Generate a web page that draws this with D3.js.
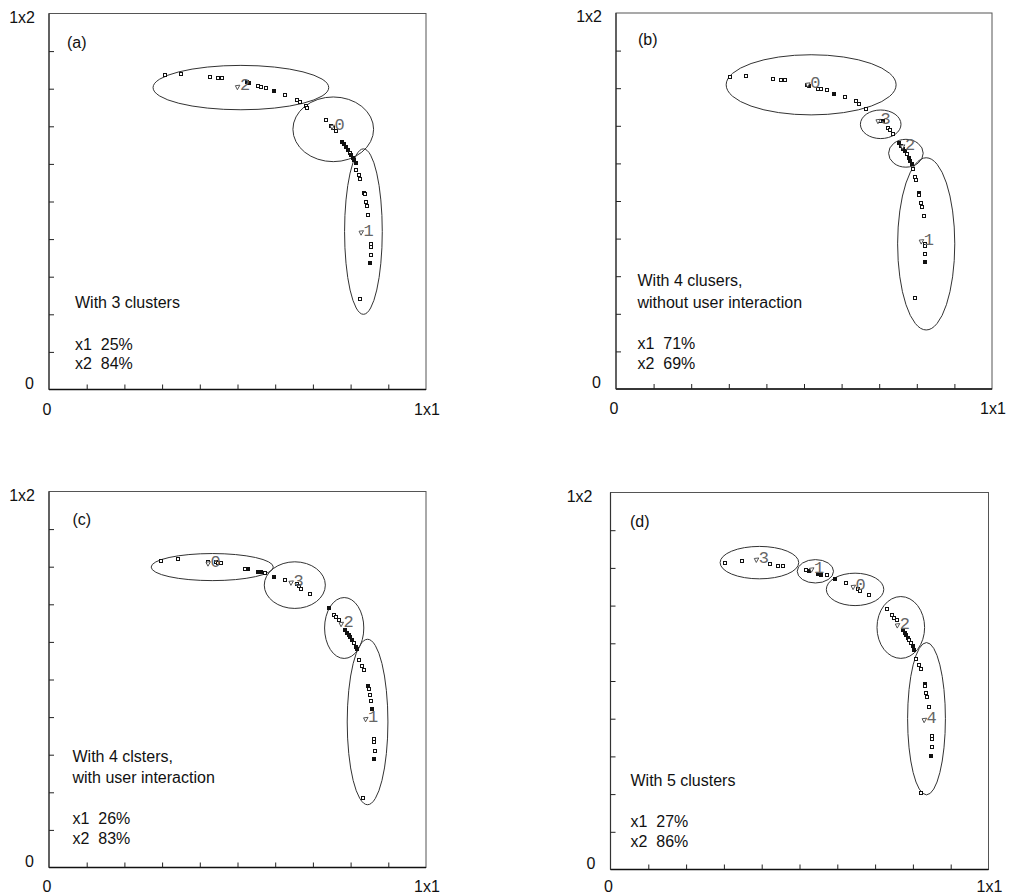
<!DOCTYPE html>
<html>
<head>
<meta charset="utf-8">
<script src="https://cdn.jsdelivr.net/npm/d3@7"></script>
<style>
    body { margin: 0; background: #fff; }
    svg { display: block; }
</style>
</head>
<body>
<div id="chart"></div>
<script>

// points: [x1, x2, filled]
const pointsA = [
    [0.307,0.836,0],[0.349,0.840,0],[0.426,0.831,0],[0.448,0.828,0],[0.459,0.828,0],
    [0.524,0.818,1],[0.531,0.815,1],[0.554,0.806,0],[0.562,0.805,0],[0.575,0.802,0],
    [0.597,0.794,1],[0.625,0.784,0],[0.658,0.771,0],[0.665,0.765,0],[0.683,0.753,0],[0.685,0.749,0],
    [0.736,0.718,0],[0.749,0.700,0],[0.753,0.696,0],[0.760,0.687,0],
    [0.778,0.658,1],[0.783,0.652,1],[0.787,0.645,1],[0.793,0.638,1],[0.798,0.629,0],[0.802,0.623,1],
    [0.806,0.616,1],[0.809,0.610,1],[0.813,0.603,1],
    [0.815,0.585,0],[0.821,0.570,0],[0.826,0.560,0],[0.835,0.523,1],[0.837,0.519,0],[0.842,0.499,0],
    [0.844,0.488,0],[0.847,0.463,0],[0.853,0.386,0],[0.853,0.380,0],[0.853,0.357,0],[0.851,0.336,1],
    [0.824,0.241,0]
];
const pointsB = [
    [0.303,0.829,0],[0.346,0.832,0],[0.418,0.825,0],[0.440,0.822,0],[0.449,0.822,0],
    [0.507,0.809,1],[0.514,0.805,1],[0.537,0.798,0],[0.546,0.797,0],[0.560,0.794,0],[0.580,0.785,1],
    [0.608,0.776,0],[0.639,0.765,0],[0.646,0.759,0],[0.666,0.744,0],
    [0.701,0.712,0],[0.710,0.714,1],[0.723,0.694,0],[0.729,0.688,0],[0.736,0.679,0],
    [0.752,0.654,1],[0.759,0.645,1],[0.763,0.639,1],[0.769,0.633,1],[0.775,0.624,0],[0.779,0.615,1],
    [0.783,0.606,1],[0.787,0.599,1],
    [0.789,0.584,0],[0.794,0.564,0],[0.798,0.557,0],[0.805,0.520,1],[0.807,0.515,0],[0.812,0.495,0],
    [0.814,0.484,0],[0.818,0.460,0],[0.823,0.385,0],[0.823,0.379,0],[0.823,0.358,0],[0.821,0.337,1],
    [0.796,0.241,0]
];
const pointsC = [
    [0.297,0.815,0],[0.343,0.820,0],[0.421,0.813,0],[0.444,0.813,0],[0.448,0.810,0],[0.457,0.810,0],
    [0.521,0.795,0],[0.529,0.793,1],[0.554,0.785,1],[0.563,0.785,1],[0.574,0.784,0],[0.596,0.773,1],
    [0.627,0.764,0],[0.658,0.755,0],[0.662,0.748,0],[0.668,0.742,0],[0.691,0.727,0],
    [0.742,0.689,1],[0.755,0.671,0],[0.761,0.665,0],[0.768,0.658,0],[0.786,0.631,1],[0.791,0.624,1],
    [0.795,0.618,1],[0.799,0.612,1],[0.804,0.605,1],[0.808,0.596,0],[0.813,0.587,1],[0.817,0.580,1],
    [0.822,0.553,0],[0.829,0.536,0],[0.835,0.525,0],[0.845,0.483,1],[0.848,0.476,0],[0.851,0.459,0],
    [0.854,0.444,0],[0.857,0.421,1],[0.863,0.341,0],[0.863,0.333,0],[0.864,0.311,0],[0.861,0.288,1],
    [0.833,0.184,0]
];
const pointsD = [
    [0.303,0.813,0],[0.347,0.817,0],[0.422,0.811,0],[0.444,0.806,0],[0.456,0.806,0],
    [0.517,0.795,0],[0.524,0.791,1],[0.549,0.784,1],[0.557,0.781,1],[0.572,0.781,0],
    [0.593,0.771,1],[0.623,0.760,0],[0.655,0.744,0],[0.659,0.740,0],[0.683,0.727,0],
    [0.731,0.690,0],[0.744,0.674,0],[0.751,0.668,0],[0.758,0.661,0],[0.774,0.634,1],[0.778,0.627,1],
    [0.782,0.621,1],[0.787,0.615,1],[0.791,0.608,0],[0.796,0.600,0],[0.800,0.592,1],[0.804,0.583,1],
    [0.809,0.559,0],[0.815,0.542,0],[0.821,0.533,0],[0.831,0.491,1],[0.833,0.486,0],[0.835,0.469,0],
    [0.837,0.458,0],[0.843,0.431,0],[0.850,0.354,0],[0.850,0.347,0],[0.850,0.324,0],[0.848,0.301,1],
    [0.821,0.204,0]
];

// cluster centres: [label, x1, x2]
const centresA = [['2',0.501,0.804],['0',0.752,0.698],['1',0.829,0.417]];
const centresB = [['0',0.511,0.809],['3',0.698,0.712],['2',0.763,0.644],['1',0.813,0.392]];
const centresC = [['0',0.423,0.808],['3',0.643,0.757],['2',0.776,0.647],['1',0.841,0.394]];
const centresD = [['3',0.387,0.821],['1',0.533,0.795],['0',0.643,0.749],['2',0.760,0.647],['4',0.831,0.396]];

// cluster ellipses: [cx, cy, rx, ry] in data units
const ellipsesA = [[0.509,0.803,0.233,0.059],[0.754,0.692,0.107,0.086],[0.834,0.420,0.050,0.220]];
const ellipsesB = [[0.519,0.809,0.226,0.080],[0.704,0.704,0.054,0.038],[0.771,0.627,0.046,0.037],[0.825,0.386,0.076,0.229]];
const ellipsesC = [[0.433,0.799,0.162,0.036],[0.652,0.751,0.081,0.062],[0.783,0.637,0.052,0.081],[0.845,0.387,0.054,0.220]];
const ellipsesD = [[0.394,0.814,0.104,0.043],[0.542,0.791,0.048,0.031],[0.647,0.743,0.076,0.043],[0.768,0.642,0.063,0.082],[0.836,0.400,0.050,0.202]];

const tags = ['(a)', '(b)', '(c)', '(d)'];
const captions = [
    ['With 3 clusters'],
    ['With 4 clusers,', 'without user interaction'],
    ['With 4 clsters,', 'with user interaction'],
    ['With 5 clusters']
];
const shares = [
    ['x1  25%', 'x2  84%'],
    ['x1  71%', 'x2  69%'],
    ['x1  26%', 'x2  83%'],
    ['x1  27%', 'x2  86%']
];
const tickValues = [0.1, 0.2, 0.3, 0.4, 0.5, 0.6, 0.7, 0.8, 0.9];
const axisLabels = { xMin: '0', xMax: '1x1', yMin: '0', yMax: '1x2' };

// layout of the four panels (pixels)
const panels = [
    { points: pointsA, centres: centresA, ellipses: ellipsesA, left: 49, top: 13.5, w: 377, h: 376,
      tag: [67, 48], textX: 75, lines: [308, 350, 369], yLabelGap: 14 },
    { points: pointsB, centres: centresB, ellipses: ellipsesB, left: 616, top: 13, w: 376, h: 376,
      tag: [638, 45], textX: 637.5, lines: [286, 308, 349, 369], yLabelGap: 14 },
    { points: pointsC, centres: centresC, ellipses: ellipsesC, left: 49, top: 491.5, w: 377, h: 376,
      tag: [72.5, 525], textX: 72.5, lines: [762, 783, 824, 844], yLabelGap: 14 },
    { points: pointsD, centres: centresD, ellipses: ellipsesD, left: 610.5, top: 492.5, w: 378, h: 377,
      tag: [630, 527], textX: 630.5, lines: [786, 827, 847], yLabelGap: 18 }
];

const W = 1019;
const H = 896;

const svg = d3.select('#chart')
    .append('svg')
    .attr('width', W)
    .attr('height', H)
    .style('font-family', '"Liberation Sans", Arial, sans-serif');

panels.forEach((p, i) => drawPanel(svg, p, i));


function drawPanel(svg, p, i){
    const g = svg.append('g');
    const bottom = p.top + p.h;
    const right = p.left + p.w;

    const x = d3.scaleLinear().domain([0, 1]).range([p.left, right]);
    const y = d3.scaleLinear().domain([0, 1]).range([bottom, p.top]);

    // frame
    g.append('rect')
        .attr('x', p.left)
        .attr('y', p.top)
        .attr('width', p.w)
        .attr('height', p.h)
        .attr('fill', 'none')
        .attr('stroke', '#555')
        .attr('stroke-width', 1);

    // inward ticks, no tick labels
    g.append('g')
        .attr('transform', `translate(0,${bottom})`)
        .call(d3.axisBottom(x).tickValues(tickValues).tickSize(-5).tickFormat(''))
        .call(a => a.select('.domain').attr('d', `M${p.left},0H${right}`).attr('stroke', '#111').attr('stroke-width', 1.4));

    g.append('g')
        .attr('transform', `translate(${p.left},0)`)
        .call(d3.axisLeft(y).tickValues(tickValues).tickSize(-5).tickFormat(''))
        .call(a => a.select('.domain').attr('d', `M0,${p.top}V${bottom}`).attr('stroke', '#333').attr('stroke-width', 1.2));

    g.selectAll('.tick line').attr('stroke', '#222');

    // axis end labels
    const lab = g.append('g')
        .attr('font-size', 16)
        .attr('fill', '#111');
    const base = Math.min(bottom + 25, H - 4);

    lab.append('text').attr('x', p.left - p.yLabelGap).attr('y', p.top + 9)
        .attr('text-anchor', 'end').text(axisLabels.yMax);
    lab.append('text').attr('x', p.left - 15).attr('y', bottom - 1)
        .attr('text-anchor', 'end').text(axisLabels.yMin);
    lab.append('text').attr('x', p.left - 2).attr('y', base)
        .attr('text-anchor', 'middle').text(axisLabels.xMin);
    lab.append('text').attr('x', right - 12).attr('y', base)
        .text(axisLabels.xMax);

    // ellipses round each cluster
    g.append('g')
        .selectAll('ellipse')
        .data(p.ellipses)
        .join('ellipse')
        .attr('cx', d => x(d[0]))
        .attr('cy', d => y(d[1]))
        .attr('rx', d => x(d[2]) - x(0))
        .attr('ry', d => y(0) - y(d[3]))
        .attr('fill', 'none')
        .attr('stroke', '#333')
        .attr('stroke-width', 1);

    // data points
    g.append('g')
        .selectAll('rect')
        .data(p.points)
        .join('rect')
        .attr('x', d => Math.round(x(d[0])) - 1.5)
        .attr('y', d => Math.round(y(d[1])) - 1.5)
        .attr('width', 3)
        .attr('height', 3)
        .attr('fill', d => d[2] ? '#111' : '#fff')
        .attr('stroke', '#111')
        .attr('stroke-width', 1);

    // cluster centres and their numbers
    const c = g.append('g')
        .selectAll('g')
        .data(p.centres)
        .join('g')
        .attr('transform', d => `translate(${x(d[1])},${y(d[2])})`);

    c.append('path')
        .attr('d', 'M-2.5,-1.5L2,-2L-0.5,2.5Z')
        .attr('fill', '#fff')
        .attr('stroke', '#444')
        .attr('stroke-width', 0.9);

    c.append('text')
        .attr('x', 2)
        .attr('y', 3)
        .attr('font-family', '"Liberation Mono", "DejaVu Sans Mono", monospace')
        .attr('font-size', 17)
        .attr('fill', '#666')
        .text(d => d[0]);

    // panel tag and captions
    const t = g.append('g')
        .attr('font-size', 16)
        .attr('fill', '#111');

    t.append('text')
        .attr('x', p.tag[0])
        .attr('y', p.tag[1])
        .text(tags[i]);

    const lines = captions[i].concat(shares[i]);
    t.selectAll('.line')
        .data(lines)
        .join('text')
        .attr('class', 'line')
        .attr('x', p.textX)
        .attr('y', (d, k) => p.lines[k])
        .attr('xml:space', 'preserve')
        .style('white-space', 'pre')
        .text(d => d);
}

</script>
</body>
</html>
